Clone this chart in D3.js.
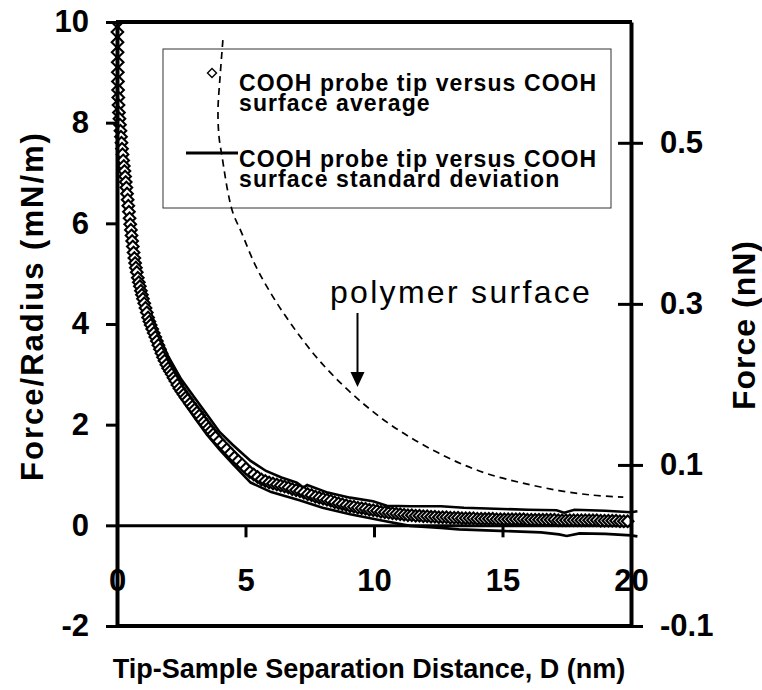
<!DOCTYPE html>
<html>
<head>
<meta charset="utf-8">
<script src="https://cdn.jsdelivr.net/npm/d3@7"></script>
<style>
  body { margin: 0; background: #fff; }
  text { font-family: "Liberation Sans", Arial, sans-serif; fill: #000; }
</style>
</head>
<body>
<div id="chart"></div>
<script>
// Force/Radius vs separation distance, COOH tip on COOH surface

// average curve (diamonds): separation D (nm) and force/radius (mN/m)
const avgDistance = [
  0.000, 0.004, 0.008, 0.012, 0.016, 0.020, 0.024, 0.028, 0.032, 0.037,
  0.043, 0.050, 0.060, 0.075, 0.095, 0.115, 0.135, 0.155, 0.175, 0.195,
  0.215, 0.240, 0.265, 0.290, 0.315, 0.340, 0.365, 0.390, 0.415, 0.440,
  0.465, 0.490, 0.515, 0.540, 0.565, 0.590, 0.615, 0.645, 0.675, 0.705,
  0.735, 0.770, 0.810, 0.850, 0.890, 0.930, 0.970, 1.010, 1.060, 1.110,
  1.160, 1.210, 1.260, 1.310, 1.370, 1.430, 1.490, 1.550, 1.610, 1.670,
  1.730, 1.790, 1.850, 1.920, 1.990, 2.060, 2.130, 2.200, 2.270, 2.350,
  2.430, 2.510, 2.590, 2.670, 2.750, 2.840, 2.930, 3.020, 3.110, 3.200,
  3.290, 3.380, 3.470, 3.560, 3.650, 3.740, 3.830, 3.97, 4.12, 4.27,
  4.42, 4.57, 4.72, 4.87, 5.02, 5.17, 5.32, 5.47, 5.62, 5.77,
  5.92, 6.07, 6.22, 6.37, 6.52, 6.67, 6.82, 6.97, 7.12, 7.27,
  7.42, 7.57, 7.72, 7.87, 8.02, 8.17, 8.32, 8.47, 8.62, 8.77,
  8.92, 9.07, 9.22, 9.37, 9.52, 9.67, 9.82, 9.97, 10.12, 10.27,
  10.42, 10.57, 10.72, 10.87, 11.02, 11.17, 11.32, 11.47, 11.62, 11.77,
  11.92, 12.07, 12.22, 12.37, 12.52, 12.67, 12.82, 12.97, 13.12, 13.27,
  13.42, 13.57, 13.72, 13.87, 14.02, 14.17, 14.32, 14.47, 14.62, 14.77,
  14.92, 15.07, 15.22, 15.37, 15.52, 15.67, 15.82, 15.97, 16.12, 16.27,
  16.42, 16.57, 16.72, 16.87, 17.02, 17.17, 17.32, 17.47, 17.62, 17.77,
  17.92, 18.07, 18.22, 18.37, 18.52, 18.67, 18.82, 18.97, 19.12, 19.27,
  19.42, 19.57, 19.72, 19.87
];
const avgForce = [
  10.8, 10.5, 10.25, 10.0, 9.8, 9.6, 9.4, 9.2, 9.0, 8.82,
  8.65, 8.5, 8.35, 8.2, 8.08, 7.96, 7.84, 7.72, 7.6, 7.48,
  7.37, 7.25, 7.14, 7.04, 6.93, 6.82, 6.71, 6.59, 6.47, 6.35,
  6.23, 6.10, 5.98, 5.87, 5.76, 5.65, 5.54, 5.42, 5.31, 5.21,
  5.12, 5.03, 4.92, 4.83, 4.75, 4.66, 4.58, 4.50, 4.41, 4.32,
  4.23, 4.13, 4.05, 3.98, 3.90, 3.82, 3.74, 3.66, 3.58, 3.50,
  3.42, 3.34, 3.27, 3.19, 3.12, 3.06, 3.00, 2.93, 2.87, 2.79,
  2.72, 2.66, 2.60, 2.54, 2.49, 2.42, 2.36, 2.30, 2.24, 2.18,
  2.11, 2.05, 1.99, 1.93, 1.87, 1.81, 1.75, 1.67, 1.59, 1.51,
  1.43, 1.35, 1.28, 1.21, 1.13, 1.06, 1.01, 0.96, 0.91, 0.88,
  0.85, 0.83, 0.81, 0.79, 0.77, 0.75, 0.72, 0.70, 0.68, 0.65,
  0.62, 0.60, 0.57, 0.55, 0.53, 0.51, 0.49, 0.46, 0.44, 0.42,
  0.40, 0.38, 0.37, 0.35, 0.34, 0.33, 0.31, 0.30, 0.29, 0.27,
  0.26, 0.25, 0.24, 0.23, 0.22, 0.21, 0.20, 0.20, 0.19, 0.19,
  0.18, 0.18, 0.17, 0.17, 0.16, 0.16, 0.16, 0.15, 0.15, 0.15,
  0.14, 0.14, 0.14, 0.14, 0.13, 0.13, 0.13, 0.13, 0.13, 0.12,
  0.12, 0.12, 0.12, 0.12, 0.12, 0.12, 0.12, 0.11, 0.11, 0.11,
  0.11, 0.11, 0.11, 0.11, 0.11, 0.10, 0.10, 0.10, 0.10, 0.10,
  0.10, 0.10, 0.10, 0.10, 0.10, 0.10, 0.09, 0.09, 0.09, 0.09,
  0.09, 0.08, 0.08, 0.08
];

// standard deviation envelope (upper and lower lines)
const sdUpperDistance = [0, 0.03, 0.06, 0.1, 0.15, 0.22, 0.32, 0.45, 0.6, 0.78, 1.0, 1.3, 1.6, 2.0, 2.5, 3.0, 3.5, 4.0, 4.5, 5.2, 5.8, 6.4, 7.0, 7.25, 7.4, 8.2, 9.07, 9.96, 10.5, 11.4, 12.6, 13.5, 14.7, 16.0, 17.1, 17.4, 17.8, 19.0, 20.0, 20.25];
const sdUpperForce = [11.0, 9.4, 8.8, 8.3, 7.95, 7.6, 7.15, 6.5, 5.85, 5.25, 4.78, 4.25, 3.8, 3.35, 2.9, 2.55, 2.2, 1.85, 1.6, 1.28, 1.08, 0.95, 0.85, 0.75, 0.8, 0.65, 0.55, 0.48, 0.39, 0.38, 0.38, 0.35, 0.33, 0.31, 0.30, 0.25, 0.31, 0.29, 0.26, 0.28];
const sdLowerDistance = [0, 0.03, 0.06, 0.1, 0.15, 0.22, 0.32, 0.45, 0.6, 0.78, 1.0, 1.3, 1.6, 2.0, 2.5, 3.0, 3.5, 4.0, 4.5, 5.2, 6.0, 7.1, 8.0, 9.07, 10.35, 11.4, 12.6, 13.3, 14.9, 16.5, 17.2, 17.5, 18.0, 19.0, 20.0, 20.25];
const sdLowerForce = [10.4, 8.6, 8.1, 7.75, 7.45, 7.1, 6.7, 6.05, 5.4, 4.85, 4.35, 3.85, 3.42, 2.98, 2.52, 2.15, 1.8, 1.5, 1.22, 0.85, 0.66, 0.5, 0.35, 0.22, 0.09, -0.01, -0.05, -0.08, -0.11, -0.14, -0.18, -0.21, -0.16, -0.17, -0.2, -0.22];

// dashed "polymer surface" curve
const polymerDistance = [4.12, 4.01, 3.93, 3.97, 4.09, 4.32, 4.51, 4.85, 5.4, 6.07, 6.8, 7.63, 8.5, 9.53, 10.5, 11.5, 12.5, 13.5, 14.5, 15.7, 17.2, 18.5, 19.7];
const polymerForce = [9.64, 8.91, 8.25, 7.72, 7.32, 6.61, 6.21, 5.81, 5.15, 4.54, 3.98, 3.42, 2.93, 2.44, 2.05, 1.72, 1.44, 1.2, 1.01, 0.85, 0.69, 0.60, 0.56];

// axis ticks
const xTicks = [0, 5, 10, 15, 20];
const yLeftTicks = [-2, 0, 2, 4, 6, 8, 10];
const yRightTicks = [-0.1, 0.1, 0.3, 0.5];

const legendLines = [
  ['COOH probe tip versus COOH', 'surface average'],
  ['COOH probe tip versus COOH', 'surface standard deviation']
];

const width = 762, height = 690;
const plot = { left: 117, right: 631, top: 22, bottom: 626 };

const svg = d3.select('#chart').append('svg')
  .attr('width', width)
  .attr('height', height);

const x = d3.scaleLinear().domain([0, 20]).range([plot.left, plot.right]);
const y = d3.scaleLinear().domain([-2, 10]).range([plot.bottom, plot.top]);
const yRight = d3.scaleLinear().domain([-0.1, 0.65]).range([plot.bottom, plot.top]);

svg.append('defs').append('clipPath').attr('id', 'clip')
  .append('rect')
  .attr('x', plot.left - 10).attr('y', plot.top)
  .attr('width', plot.right - plot.left + 20)
  .attr('height', plot.bottom - plot.top);

// legend box (behind the dashed curve)
const legend = svg.append('g');
legend.append('rect')
  .attr('x', 163).attr('y', 49)
  .attr('width', 448).attr('height', 159)
  .attr('fill', 'none')
  .attr('stroke', '#333')
  .attr('stroke-width', 1);

// x axis sits on the zero line
const xAxis = svg.append('g')
  .attr('transform', `translate(0,${y(0)})`)
  .call(d3.axisBottom(x).tickValues(xTicks).tickSizeInner(12).tickSizeOuter(0).tickPadding(32).tickFormat(d => String(d)));
xAxis.select('.domain').attr('stroke-width', 3);
xAxis.selectAll('.tick line').attr('stroke-width', 3);
xAxis.selectAll('text')
  .style('font-size', '31px').style('font-weight', 'bold');

const series = svg.append('g').attr('clip-path', 'url(#clip)');

const line = d3.line().x(d => x(d[0])).y(d => y(d[1]));

series.append('path')
  .datum(d3.zip(sdUpperDistance, sdUpperForce))
  .attr('fill', 'none').attr('stroke', '#000').attr('stroke-width', 2.6)
  .attr('d', line);
series.append('path')
  .datum(d3.zip(sdLowerDistance, sdLowerForce))
  .attr('fill', 'none').attr('stroke', '#000').attr('stroke-width', 2.6)
  .attr('d', line);

const diamond = 'M0,-5.8L5.8,0L0,5.8L-5.8,0Z';
series.append('g')
  .selectAll('path')
  .data(d3.zip(avgDistance, avgForce))
  .enter().append('path')
  .attr('d', diamond)
  .attr('transform', d => `translate(${x(d[0])},${y(d[1])})`)
  .attr('fill', '#fff')
  .attr('stroke', '#000')
  .attr('stroke-width', 2.1);

series.append('path')
  .datum(d3.zip(polymerDistance, polymerForce))
  .attr('fill', 'none').attr('stroke', '#000')
  .attr('stroke-width', 1.7)
  .attr('stroke-dasharray', '7,5')
  .attr('d', d3.line().x(d => x(d[0])).y(d => y(d[1])).curve(d3.curveCatmullRom));

// frame: top and bottom lines
svg.append('line')
  .attr('x1', plot.left - 1).attr('x2', plot.right + 1)
  .attr('y1', plot.top).attr('y2', plot.top)
  .attr('stroke', '#000').attr('stroke-width', 4);
svg.append('line')
  .attr('x1', plot.left - 1).attr('x2', plot.right + 1)
  .attr('y1', plot.bottom).attr('y2', plot.bottom)
  .attr('stroke', '#000').attr('stroke-width', 4);

// left axis
const leftAxis = svg.append('g')
  .attr('transform', `translate(${plot.left},0)`)
  .call(d3.axisLeft(y).tickValues(yLeftTicks).tickSizeInner(11).tickSizeOuter(0).tickPadding(17).tickFormat(d => String(d)));
leftAxis.select('.domain').attr('stroke-width', 4);
leftAxis.selectAll('.tick line').attr('stroke-width', 3);
leftAxis.selectAll('text')
  .style('font-size', '31px').style('font-weight', 'bold');

// right axis with crossing ticks
const rightAxis = svg.append('g')
  .attr('transform', `translate(${plot.right},0)`)
  .call(d3.axisRight(yRight).tickValues(yRightTicks).tickSizeInner(12).tickSizeOuter(0).tickPadding(17).tickFormat(d => String(d)));
rightAxis.select('.domain').attr('stroke-width', 4);
rightAxis.selectAll('.tick line').attr('x1', -13).attr('stroke-width', 3);
rightAxis.selectAll('text')
  .style('font-size', '31px').style('font-weight', 'bold');

// legend entries
legend.append('path')
  .attr('d', 'M0,-4.5L4.5,0L0,4.5L-4.5,0Z')
  .attr('transform', 'translate(212,73)')
  .attr('fill', '#fff').attr('stroke', '#000').attr('stroke-width', 1.4);
legend.append('line')
  .attr('x1', 186).attr('x2', 238)
  .attr('y1', 153).attr('y2', 153)
  .attr('stroke', '#000').attr('stroke-width', 3);

const legendTop = [91, 167];
legendLines.forEach((rows, i) => {
  rows.forEach((row, j) => {
    legend.append('text')
      .attr('x', 239)
      .attr('y', legendTop[i] + j * 20)
      .style('font-size', '23px')
      .style('font-weight', 'bold')
      .style('letter-spacing', '1.1px')
      .text(row);
  });
});

// annotation
svg.append('text')
  .attr('x', 330).attr('y', 303)
  .style('font-size', '32px')
  .style('letter-spacing', '2.3px')
  .text('polymer surface');

svg.append('line')
  .attr('x1', 357.5).attr('x2', 357.5)
  .attr('y1', 313).attr('y2', 374)
  .attr('stroke', '#000').attr('stroke-width', 2);
svg.append('path')
  .attr('d', 'M350.5,372L364.5,372L357.5,387Z')
  .attr('fill', '#000');

// axis titles
svg.append('text')
  .attr('transform', 'translate(43,306) rotate(-90)')
  .attr('text-anchor', 'middle')
  .style('font-size', '31px')
  .style('font-weight', 'bold')
  .style('letter-spacing', '2px')
  .text('Force/Radius (mN/m)');

svg.append('text')
  .attr('transform', 'translate(755,325) rotate(-90)')
  .attr('text-anchor', 'middle')
  .style('font-size', '32px')
  .style('font-weight', 'bold')
  .style('letter-spacing', '1px')
  .text('Force (nN)');

svg.append('text')
  .attr('x', 369).attr('y', 678)
  .attr('text-anchor', 'middle')
  .style('font-size', '27px')
  .style('font-weight', 'bold')
  .text('Tip-Sample Separation Distance, D (nm)');
</script>
</body>
</html>
